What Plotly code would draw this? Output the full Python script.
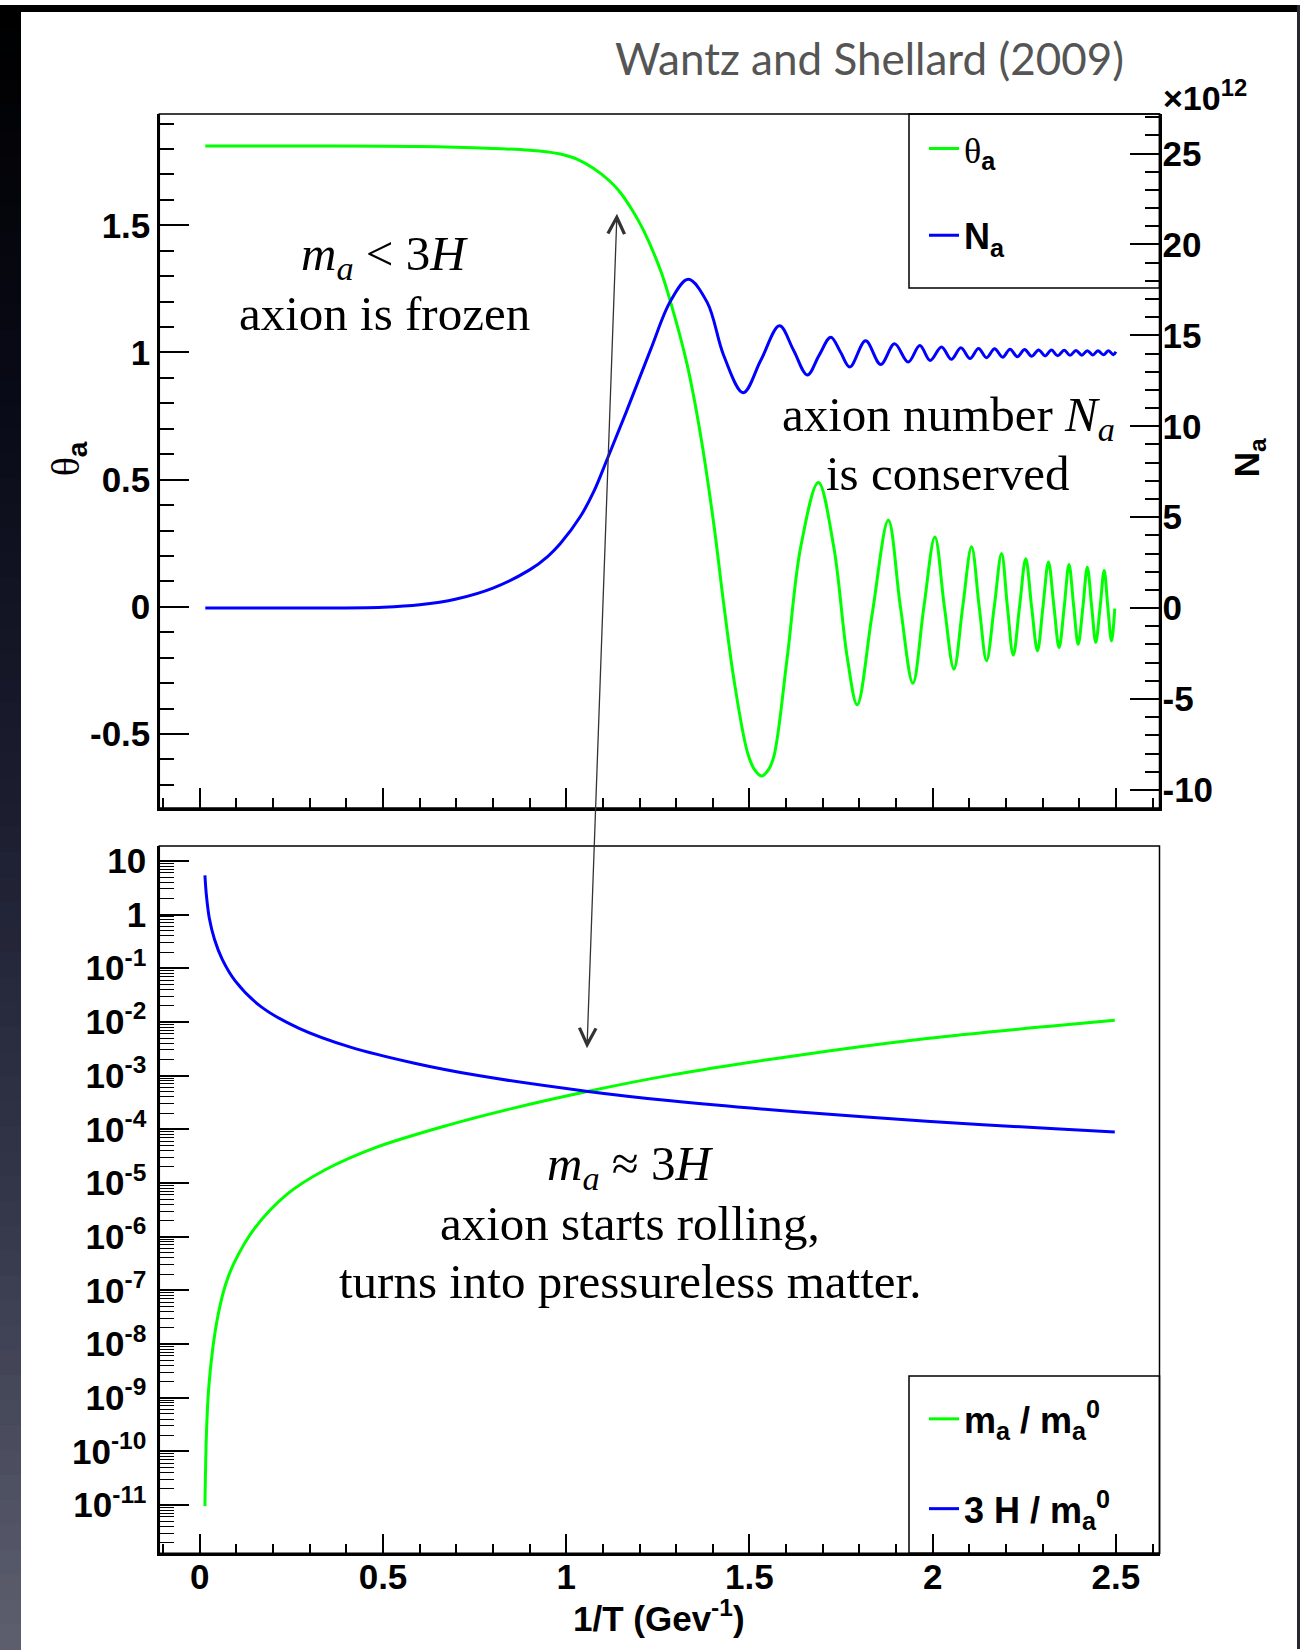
import plotly.graph_objects as go

# ---------------- data ----------------
# top panel: misalignment angle theta_a (left axis)
theta_x = [0.015, 0.3, 0.6, 0.8, 0.9, 0.95, 0.984, 1.029, 1.074, 1.12, 1.148, 1.18, 1.212,
           1.258, 1.285, 1.33, 1.367, 1.403, 1.43, 1.458, 1.494, 1.513, 1.533, 1.552, 1.567,
           1.603, 1.64, 1.688, 1.73, 1.767, 1.794, 1.835, 1.879, 1.912, 1.946, 1.976, 2.006,
           2.032, 2.058, 2.082, 2.106, 2.127, 2.147, 2.168, 2.188, 2.204, 2.22, 2.237, 2.254,
           2.27, 2.286, 2.301, 2.316, 2.331, 2.345, 2.359, 2.372, 2.385, 2.397, 2.41, 2.422,
           2.434, 2.445, 2.457, 2.468, 2.478, 2.488, 2.497]
theta_y = [1.812, 1.812, 1.81, 1.802, 1.795, 1.788, 1.780, 1.760, 1.724, 1.672, 1.628, 1.56,
           1.477, 1.32, 1.197, 0.952, 0.672, 0.322, 0.009, -0.289, -0.569, -0.638, -0.665,
           -0.64, -0.586, -0.2, 0.236, 0.489, 0.236, -0.2, -0.385, -0.027, 0.34, 0.0, -0.30,
           0.0, 0.275, 0.0, -0.245, 0.0, 0.236, 0.0, -0.212, 0.0, 0.21, 0.0, -0.19, 0.0, 0.189,
           0.0, -0.173, 0.0, 0.176, 0.0, -0.16, 0.0, 0.166, 0.0, -0.147, 0.0, 0.156, 0.0,
           -0.14, 0.0, 0.143, 0.0, -0.134, -0.007]

# top panel: axion number N_a in units of 10^12 (right axis)
na_x = [0.015, 0.3, 0.5, 0.6, 0.7, 0.8, 0.9, 0.95, 0.984, 1.039, 1.075, 1.112, 1.166, 1.23,
        1.285, 1.333, 1.385, 1.43, 1.483, 1.531, 1.582, 1.62, 1.658, 1.69, 1.722, 1.748,
        1.774, 1.817, 1.858, 1.896, 1.933, 1.965, 1.993, 2.024, 2.051, 2.077, 2.102, 2.125,
        2.147, 2.169, 2.191, 2.211, 2.231, 2.251, 2.27, 2.289, 2.307, 2.324, 2.341, 2.359,
        2.375, 2.391, 2.407, 2.422, 2.437, 2.451, 2.466, 2.48, 2.493, 2.5]
na_y = [0.0, 0.0, 0.05, 0.18, 0.5, 1.1, 2.1, 2.85, 3.55, 5.05, 6.4, 8.2, 10.9, 14.2,
        16.9, 18.08, 16.8, 13.88, 11.85, 13.63, 15.53, 14.2, 12.82, 13.9, 14.9, 14.1,
        13.26, 14.7, 13.4, 14.54, 13.53, 14.44, 13.62, 14.36, 13.68, 14.32, 13.73, 14.28,
        13.77, 14.26, 13.80, 14.24, 13.83, 14.22, 13.85, 14.20, 13.87, 14.19, 13.88, 14.18,
        13.90, 14.17, 13.91, 14.16, 13.92, 14.15, 13.93, 14.15, 13.94, 14.1]

# bottom panel: m_a / m_a^0 and 3H / m_a^0 (log axis)
ma_x = [0.014, 0.018, 0.024, 0.035, 0.05, 0.07, 0.096, 0.149, 0.236, 0.341, 0.481, 0.673,
        0.848, 1.054, 1.285, 1.635, 1.984, 2.334, 2.497]
ma_y = [9.55e-12, 2.0e-10, 1.41e-9, 7.9e-9, 3.5e-8, 1.26e-7, 3.5e-7, 1.41e-6, 6.0e-6,
        1.74e-5, 4.6e-5, 1.17e-4, 2.4e-4, 5.0e-4, 1.02e-3, 2.4e-3, 4.9e-3, 8.5e-3, 1.07e-2]
h3_x = [0.014, 0.018, 0.026, 0.04, 0.061, 0.096, 0.166, 0.271, 0.411, 0.586, 0.76, 1.054,
        1.285, 1.635, 1.984, 2.334, 2.497]
h3_y = [5.37, 2.29, 0.851, 0.347, 0.148, 0.0589, 0.0195, 7.59e-3, 3.39e-3, 1.70e-3, 1.0e-3,
        5.13e-4, 3.39e-4, 2.09e-4, 1.41e-4, 1.02e-4, 8.9e-5]

log_tick_vals = [1e1, 1e0, 1e-1, 1e-2, 1e-3, 1e-4, 1e-5, 1e-6, 1e-7, 1e-8, 1e-9, 1e-10, 1e-11]
log_tick_text = ["10", "1", "10<sup>-1</sup>", "10<sup>-2</sup>", "10<sup>-3</sup>",
                 "10<sup>-4</sup>", "10<sup>-5</sup>", "10<sup>-6</sup>", "10<sup>-7</sup>",
                 "10<sup>-8</sup>", "10<sup>-9</sup>", "10<sup>-10</sup>", "10<sup>-11</sup>"]
x_tick_vals = [0, 0.5, 1, 1.5, 2, 2.5]
x_tick_text = ["0", "0.5", "1", "1.5", "2", "2.5"]
theta_tick_vals = [-0.5, 0, 0.5, 1, 1.5]
theta_tick_text = ["-0.5", "0", "0.5", "1", "1.5"]
na_tick_vals = [-10, -5, 0, 5, 10, 15, 20, 25]
na_tick_text = ["-10", "-5", "0", "5", "10", "15", "20", "25"]

# ---------------- geometry helpers ----------------
W, H = 1300, 1650


def px(x):
    return x / W


def py(y):
    return 1 - y / H


X_DOM = [px(159.3), px(1159.5)]
TOP_DOM = [py(806), py(109.5)]
BOT_DOM = [py(1554), py(844)]
GREEN = "#00ff00"
BLUE = "#0000ff"
TICKFONT = dict(family="Liberation Sans", size=35, color="black", weight="bold")
SERIF = dict(family="Liberation Serif", size=49, color="black")
THETA = "<span style=\"font-family:'Liberation Serif';font-weight:normal\">θ</span>"

fig = go.Figure()
fig.add_trace(go.Scatter(x=theta_x, y=theta_y, mode="lines", xaxis="x", yaxis="y",
                         line=dict(color=GREEN, width=3, shape="spline", smoothing=1.0),
                         name=THETA + "<sub>a</sub>", legend="legend", legendgroup="g1"))
fig.add_trace(go.Scatter(x=na_x, y=na_y, mode="lines", xaxis="x", yaxis="y3",
                         line=dict(color=BLUE, width=3, shape="spline", smoothing=1.0),
                         name="N<sub>a</sub>", legend="legend", legendgroup="g2"))
fig.add_trace(go.Scatter(x=ma_x, y=ma_y, mode="lines", xaxis="x2", yaxis="y2",
                         line=dict(color=GREEN, width=3, shape="spline", smoothing=0.9),
                         name="m<sub>a</sub> / m<sub>a</sub><sup>0</sup>",
                         legend="legend2", legendgroup="g3"))
fig.add_trace(go.Scatter(x=h3_x, y=h3_y, mode="lines", xaxis="x2", yaxis="y2",
                         line=dict(color=BLUE, width=3, shape="spline", smoothing=0.9),
                         name="3 H / m<sub>a</sub><sup>0</sup>",
                         legend="legend2", legendgroup="g4"))

XRANGE = [-0.1105, 2.619]
common_x = dict(domain=X_DOM, range=XRANGE, showgrid=False, zeroline=False,
                showline=True, linecolor="black", linewidth=2.5,
                tickmode="array", tickvals=x_tick_vals, ticktext=x_tick_text,
                ticks="inside", ticklen=20, tickwidth=1.5, tickcolor="black",
                minor=dict(dtick=0.1, tick0=0, ticks="inside", ticklen=10,
                           tickwidth=1.5, tickcolor="black", showgrid=False),
                tickfont=TICKFONT)

minor_log = []
for d in range(-12, 2):
    for k in range(2, 10):
        minor_log.append(k * 10.0 ** d)

LEGFONT = dict(family="Liberation Sans", size=36, color="black", weight="bold")
fig.update_layout(
    width=W, height=H, margin=dict(l=0, r=0, t=0, b=0),
    paper_bgcolor="white", plot_bgcolor="rgba(0,0,0,0)",
    xaxis=dict(common_x, anchor="y", showticklabels=False),
    xaxis2=dict(common_x, anchor="y2", showticklabels=True, ticklabelstandoff=-9),
    yaxis=dict(domain=TOP_DOM, range=[-0.791, 1.937], anchor="x",
               showgrid=False, zeroline=False, showline=True, linecolor="black", linewidth=2,
               tickmode="array", tickvals=theta_tick_vals, ticktext=theta_tick_text,
               ticks="inside", ticklen=30, tickwidth=1.5, tickcolor="black",
               minor=dict(dtick=0.1, tick0=0, ticks="inside", ticklen=15, tickwidth=1.5,
                          tickcolor="black", showgrid=False),
               tickfont=TICKFONT, ticklabelstandoff=0),
    yaxis3=dict(overlaying="y", side="right", anchor="x", range=[-11.0, 27.17],
                showgrid=False, zeroline=False, showline=True, linecolor="black", linewidth=2,
                tickmode="array", tickvals=na_tick_vals, ticktext=na_tick_text,
                ticks="inside", ticklen=30, tickwidth=1.5, tickcolor="black",
                minor=dict(dtick=1, tick0=0, ticks="inside", ticklen=15, tickwidth=1.5,
                           tickcolor="black", showgrid=False),
                tickfont=TICKFONT, ticklabelstandoff=-6),
    yaxis2=dict(domain=BOT_DOM, type="log", range=[-11.90, 1.278], anchor="x2",
                showgrid=False, zeroline=False, showline=True, linecolor="black", linewidth=2,
                tickmode="array", tickvals=log_tick_vals, ticktext=log_tick_text,
                ticks="inside", ticklen=30, tickwidth=1.5, tickcolor="black",
                minor=dict(tickmode="array", tickvals=minor_log, ticks="inside", ticklen=15,
                           tickwidth=1.2, tickcolor="black", showgrid=False),
                tickfont=TICKFONT, ticklabelstandoff=4),
    legend=dict(x=px(924), y=py(114), xanchor="left", yanchor="top",
                bgcolor="rgba(0,0,0,0)", borderwidth=0, tracegroupgap=37,
                font=LEGFONT, itemwidth=30),
    legend2=dict(x=px(924), y=py(1389), xanchor="left", yanchor="top",
                 bgcolor="rgba(0,0,0,0)", borderwidth=0, tracegroupgap=40,
                 font=LEGFONT, itemwidth=30),
)

# ---------------- decoration: background strips, frames, legend boxes ----------------
shapes = []
stops = [(0, (0, 0, 0)), (400, (10, 11, 24)), (800, (28, 30, 48)),
         (1200, (52, 55, 74)), (1650, (94, 96, 112))]


def strip_color(y):
    for (y0, c0), (y1, c1) in zip(stops[:-1], stops[1:]):
        if y0 <= y <= y1:
            t = (y - y0) / (y1 - y0)
            return "rgb(%d,%d,%d)" % tuple(int(a + (b - a) * t) for a, b in zip(c0, c1))
    return "rgb(94,96,112)"


step = 25
for y0 in range(0, H, step):
    shapes.append(dict(type="rect", xref="paper", yref="paper", x0=0, x1=px(21),
                       y0=py(y0 + step + 1), y1=py(y0), line=dict(width=0),
                       fillcolor=strip_color(y0 + step / 2), layer="above"))
shapes.append(dict(type="rect", xref="paper", yref="paper", x0=0, x1=1, y0=py(7), y1=1,
                   line=dict(width=0), fillcolor="black", layer="above"))
shapes.append(dict(type="rect", xref="paper", yref="paper", x0=px(1297), x1=1, y0=0, y1=1,
                   line=dict(width=0), fillcolor="rgb(40,40,48)", layer="above"))
for y_top, y_bot in [(109.5, 806), (844, 1554)]:
    shapes.append(dict(type="rect", xref="paper", yref="paper", x0=px(159.3), x1=px(1159.5),
                       y0=py(y_bot), y1=py(y_top), line=dict(color="black", width=1.5),
                       fillcolor="rgba(0,0,0,0)", layer="above"))
for y_top, y_bot in [(109.5, 284), (1376, 1554)]:
    shapes.append(dict(type="rect", xref="paper", yref="paper", x0=px(909), x1=px(1159.5),
                       y0=py(y_bot), y1=py(y_top), line=dict(color="black", width=1.5),
                       fillcolor="rgba(0,0,0,0)", layer="above"))
fig.update_layout(shapes=shapes)

# ---------------- texts ----------------
ann = []


def text(x, y, s, font, **kw):
    d = dict(x=px(x), y=py(y), xref="paper", yref="paper", text=s, showarrow=False,
             font=font, xanchor="center", yanchor="middle")
    d.update(kw)
    ann.append(d)


text(869, 53, "Wantz and Shellard (2009)", dict(family="Lato", size=44, color="#555555"))
text(1205, 91, "×10<sup>12</sup>", dict(family="Liberation Sans", size=34, color="black", weight="bold"))
text(68, 456, THETA + "<sub>a</sub>",
     dict(family="Liberation Sans", size=40, color="black", weight="bold"), textangle=-90)
text(1249, 455, "N<sub>a</sub>", dict(family="Liberation Sans", size=35, color="black", weight="bold"),
     textangle=-90)
text(659, 1617, "1/T (Gev<sup>-1</sup>)", dict(family="Liberation Sans", size=35, color="black", weight="bold"))

text(384, 252, "<i>m</i><sub><i>a</i></sub> &lt; 3<i>H</i>", SERIF)
text(384, 310, "axion is frozen", SERIF)
text(948, 414, "axion number <i>N</i><sub><i>a</i></sub>", SERIF)
text(948, 470, "is conserved", SERIF)
text(630, 1166, "<i>m</i><sub><i>a</i></sub> ≈ 3<i>H</i>", SERIF)
text(630, 1223, "axion starts rolling,", SERIF)
text(630, 1281, "turns into pressureless matter.", SERIF)

# double-headed arrow linking the two panels
ann.append(dict(x=px(587), y=py(1047), xref="paper", yref="paper", text="",
                showarrow=True, axref="pixel", ayref="pixel", ax=30, ay=-836,
                arrowside="end+start", arrowhead=5, startarrowhead=5,
                arrowsize=2.5, startarrowsize=2.5, arrowwidth=1.3, arrowcolor="#333333",
                standoff=0, startstandoff=0))
fig.update_layout(annotations=ann)

fig.write_html("out.html", config={"displayModeBar": False},
               post_script="document.body.style.margin='0px';")
